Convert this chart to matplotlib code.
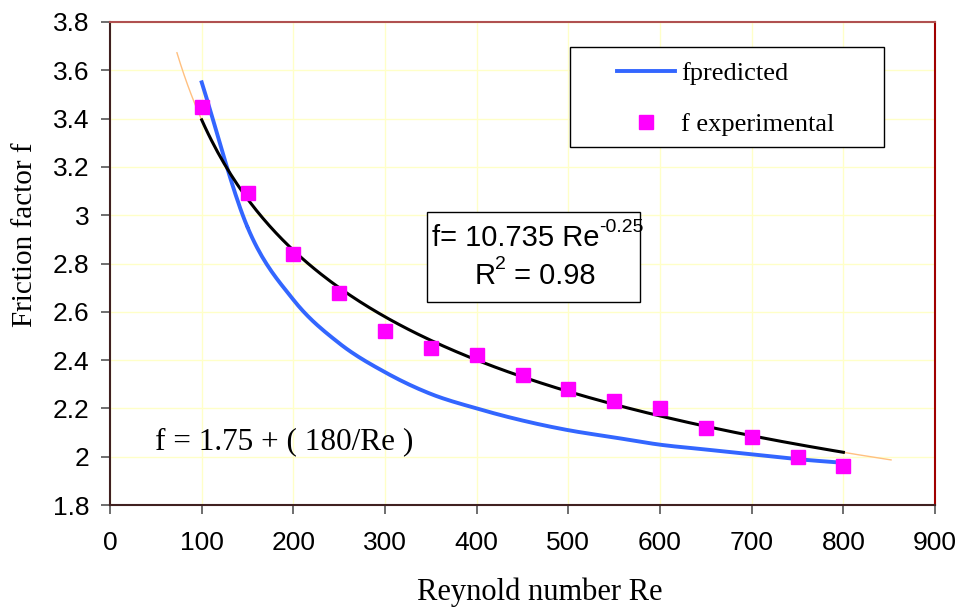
import numpy as np
import matplotlib
matplotlib.use("Agg")
import matplotlib.pyplot as plt
from matplotlib.patches import Rectangle

# data
re_exp = [100, 150, 200, 250, 300, 350, 400, 450, 500, 550, 600, 650, 700, 750, 800]
f_exp = [3.45, 3.09, 2.84, 2.68, 2.52, 2.45, 2.42, 2.34, 2.28, 2.23, 2.20, 2.12, 2.08, 2.00, 1.96]
f_pred = [3.55, 2.95, 2.65, 2.47, 2.35, 2.26, 2.20, 2.15, 2.11, 2.08, 2.05, 2.03, 2.01, 1.99, 1.975]

# power trendline shown on the chart
coef_a = 10.735
coef_b = -0.25
r2 = 0.98

sans = "Liberation Sans"
serif = "Liberation Serif"


def smooth(x, y, n=20):
    # catmull-rom curve through the points, like a smoothed excel line
    x = np.asarray(x, float)
    y = np.asarray(y, float)
    px = np.concatenate([[2 * x[0] - x[1]], x, [2 * x[-1] - x[-2]]])
    py = np.concatenate([[2 * y[0] - y[1]], y, [2 * y[-1] - y[-2]]])
    t = np.linspace(0, 1, n)[:, None]
    outx, outy = [], []
    for i in range(1, len(px) - 2):
        for p, out in ((px, outx), (py, outy)):
            p0, p1, p2, p3 = p[i - 1], p[i], p[i + 1], p[i + 2]
            out.append(0.5 * (2 * p1 + (-p0 + p2) * t + (2 * p0 - 5 * p1 + 4 * p2 - p3) * t ** 2
                              + (-p0 + 3 * p1 - 3 * p2 + p3) * t ** 3).ravel())
    return np.concatenate(outx), np.concatenate(outy)


fig = plt.figure(figsize=(9.61, 6.10), dpi=100)
ax = fig.add_axes([0.1145, 0.172, 0.8585, 0.792])

ax.grid(True, color="#ffffc8", linewidth=1.0, zorder=0)

# extended trendline (thin orange) and fitted trendline (black)
re_ext = np.linspace(73, 852, 200)
ax.plot(re_ext, coef_a * re_ext ** coef_b, color="#ffc080", linewidth=1.0, zorder=2)
re_fit = np.linspace(re_exp[0], re_exp[-1], 200)
ax.plot(re_fit, coef_a * re_fit ** coef_b, color="black", linewidth=2.2, zorder=4)

sx, sy = smooth(re_exp, f_pred)
ax.plot(sx, sy, color="#3366ff", linewidth=2.8, zorder=3, label="fpredicted")
ax.plot(re_exp, f_exp, linestyle="none", marker="s", markersize=9.5,
        color="#ff00ff", zorder=5, label="f experimental")

ax.set_xlim(0, 900)
ax.set_ylim(1.8, 3.8)
ax.set_xticks(np.arange(0, 901, 100))
ax.set_yticks(np.arange(1.8, 3.81, 0.2))
ax.set_yticklabels(["1.8", "2", "2.2", "2.4", "2.6", "2.8", "3", "3.2", "3.4", "3.6", "3.8"])
ax.tick_params(direction="out", length=6.5, width=1.2, color="#555555", labelsize=19)
ax.tick_params(axis="x", pad=12)
ax.tick_params(axis="y", pad=8.5)
for lab in ax.get_xticklabels() + ax.get_yticklabels():
    lab.set_fontfamily(sans)

ax.spines["left"].set_color("#402020")
ax.spines["bottom"].set_color("#402020")
ax.spines["top"].set_color("#b05050")
ax.spines["right"].set_color("#a00000")
for s in ax.spines.values():
    s.set_linewidth(1.5)

ax.set_xlabel("Reynold number Re", fontfamily=serif, fontsize=22, va="top")
ax.xaxis.set_label_coords(0.521, -0.150)
ax.set_ylabel("Friction factor f", fontfamily=serif, fontsize=21)
ax.yaxis.set_label_coords(-0.087, 0.56)

# legend box drawn by hand so the padding matches
ax.add_patch(Rectangle((0.5576, 0.741), 0.3804, 0.207, transform=ax.transAxes,
                       facecolor="white", edgecolor="black", linewidth=1.0, zorder=6))
leg = ax.legend(loc="upper left", bbox_to_anchor=(0.614, 0.918),
                prop={"family": serif, "size": 19}, frameon=False,
                borderpad=0, labelspacing=1.05,
                handlelength=2.2, handletextpad=0.25, borderaxespad=0)
leg.set_zorder(7)

# equation box of the trendline
ax.add_patch(Rectangle((0.384, 0.420), 0.258, 0.187, transform=ax.transAxes,
                       facecolor="white", edgecolor="black", linewidth=1.0, zorder=6))
ax.text(0.390, 0.552, "f= %.3f Re" % coef_a, transform=ax.transAxes,
        ha="left", va="center", fontfamily=sans, fontsize=21, zorder=7)
ax.text(0.593, 0.574, "%.2f" % coef_b, transform=ax.transAxes,
        ha="left", va="center", fontfamily=sans, fontsize=14, zorder=7)
ax.text(0.467, 0.475, "R", transform=ax.transAxes,
        ha="right", va="center", fontfamily=sans, fontsize=21, zorder=7)
ax.text(0.467, 0.497, "2", transform=ax.transAxes,
        ha="left", va="center", fontfamily=sans, fontsize=14, zorder=7)
ax.text(0.480, 0.475, " = %.2f" % r2, transform=ax.transAxes,
        ha="left", va="center", fontfamily=sans, fontsize=21, zorder=7)

ax.text(0.055, 0.115, "f = 1.75 + ( 180/Re )", transform=ax.transAxes,
        fontfamily=serif, fontsize=22.5, zorder=6)

fig.savefig("out.png", dpi=100)
